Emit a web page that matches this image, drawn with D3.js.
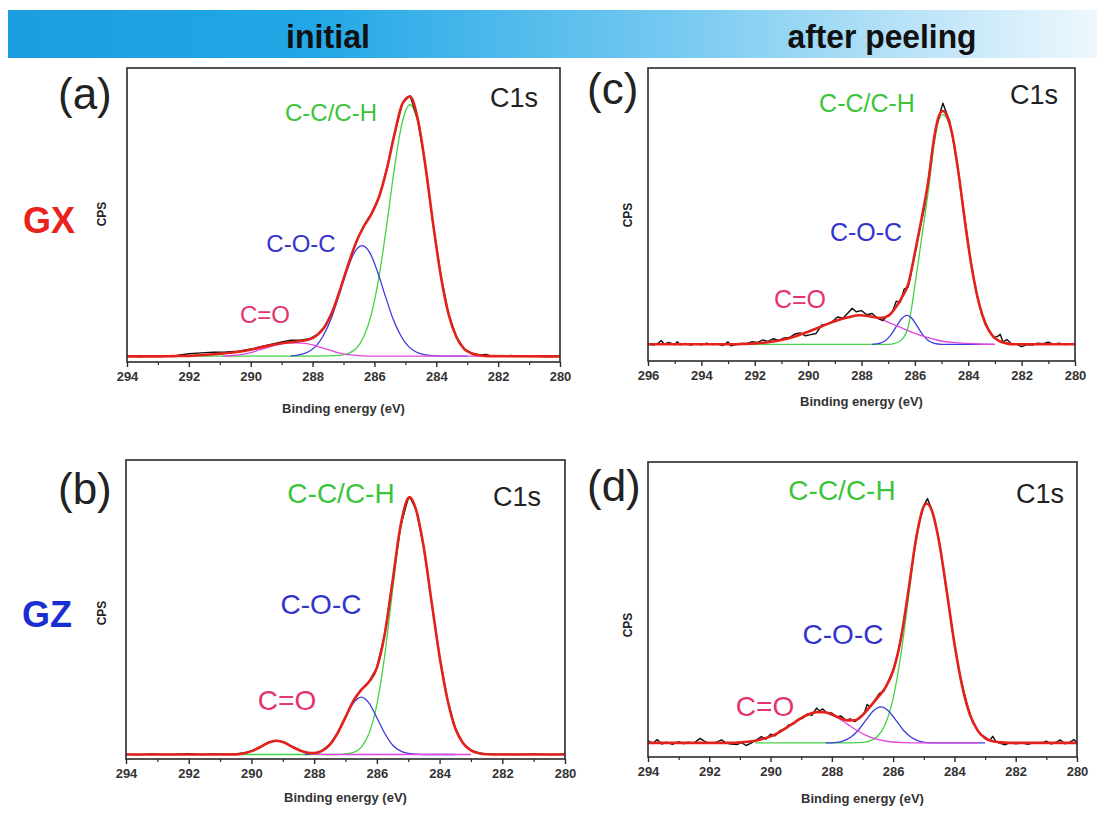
<!DOCTYPE html>
<html><head><meta charset="utf-8">
<script src="https://cdn.jsdelivr.net/npm/d3@7"></script>
<style>body{margin:0;background:#fff;} svg{display:block;}</style>
</head><body>
<svg id="chart" width="1097" height="816"></svg>
<script>
// ---------------- text / category data ----------------
const headerTitles = ["initial", "after peeling"];
const panelLetters = ["(a)", "(b)", "(c)", "(d)"];
const sampleNames = ["GX", "GZ"];
const componentLabels = ["C-C/C-H", "C-O-C", "C=O"];
const regionLabel = "C1s";
const xTitle = "Binding energy (eV)";
const yTitle = "CPS";
const ticks294 = [294, 292, 290, 288, 286, 284, 282, 280];
const ticks296 = [296, 294, 292, 290, 288, 286, 284, 282, 280];

// ---------------- panel (a) GX initial : [binding energy, relative intensity] ----------------
const aGreen = [[292,2.0],[288,2.0],[287.1,2.25],[286.85,2.9],[286.6,4.5],[286.35,8.5],[286.1,16.2],[285.85,29.1],[285.6,46.8],[285.35,66.2],[285.1,81.6],[284.85,87.5],[284.6,81.6],[284.35,66.2],[284.1,46.8],[283.85,29.1],[283.6,16.2],[283.35,8.5],[283.1,4.5],[282.85,2.9],[282.6,2.25],[282.2,2.0]];
const aBlue = [[288.7,2.1],[288.4,2.5],[288.15,3.4],[287.9,5.3],[287.65,9.0],[287.4,14.7],[287.15,22.5],[286.9,30.7],[286.65,37.2],[286.4,39.6],[286.15,37.2],[285.9,30.7],[285.65,22.5],[285.4,14.7],[285.15,9.0],[284.9,5.3],[284.65,3.4],[284.4,2.5],[284.15,2.15],[283.8,2.0],[283.0,2.0]];
const aMagenta = [[290.9,2.0],[290.5,2.3],[290.25,2.6],[290,3.2],[289.75,4.0],[289.5,4.8],[289.25,5.6],[289,6.2],[288.75,6.5],[288.5,6.5],[288.25,6.3],[288,5.8],[287.75,5.0],[287.5,4.2],[287.25,3.4],[287,2.8],[286.75,2.4],[286.5,2.2],[286,2.0],[280,2.0]];
const aRed = [[294,1.9],[293,1.9],[292.5,2.0],[292,2.1],[291.5,2.4],[291,2.8],[290.5,3.3],[290,4.2],[289.5,5.4],[289,6.4],[288.5,7.0],[288.1,7.7],[287.85,9.2],[287.6,12.1],[287.35,17.4],[287.1,24.9],[286.85,33.1],[286.6,40.5],[286.35,46],[286.1,50.3],[285.85,56.2],[285.6,65.6],[285.35,77.6],[285.1,87.7],[284.85,90.3],[284.6,82.7],[284.35,66.6],[284.1,46.8],[283.85,29.1],[283.6,16.2],[283.35,8.5],[283.1,4.5],[282.85,2.9],[282.6,2.3],[282.3,2.0],[280,1.9]];
const aBlack = [[294,2.2],[293.6,1.8],[293.2,2.1],[292.8,1.9],[292.4,2.2],[292,2.8],[291.6,3.1],[291.2,3.3],[290.8,3.4],[290.4,3.7],[290,4.4],[289.5,5.6],[289,6.8],[288.7,7.4],[288.4,7.4],[288.1,7.9],[287.85,9.3],[287.6,12.2],[287.35,17.3],[287.1,25.0],[286.85,33.0],[286.6,40.6],[286.35,46.2],[286.1,50.5],[285.85,56.0],[285.6,65.8],[285.35,77.4],[285.1,87.9],[284.85,90.6],[284.6,82.5],[284.35,66.8],[284.1,46.6],[283.85,29.3],[283.6,16.0],[283.35,8.6],[283.1,4.4],[282.85,3.0],[282.6,2.4],[282.4,2.6],[282.2,2.0],[281.8,1.9],[281.6,2.2],[281.2,1.9],[280.8,2.0],[280.4,1.8],[280,1.9]];

// ---------------- panel (b) GZ initial ----------------
const bGreen = [[290.5,1.5],[287.3,1.5],[287.0,1.7],[286.75,2.2],[286.5,3.9],[286.25,8.5],[286.0,18.2],[285.75,34.6],[285.5,56.2],[285.25,76.5],[285.1,83.5],[284.95,87.2],[284.75,83.4],[284.5,70.5],[284.25,52.2],[284.0,34.3],[283.75,20.0],[283.5,10.3],[283.25,5.3],[283.0,2.9],[282.75,1.95],[282.5,1.6],[282.2,1.5]];
const bBlue = [[288.3,1.5],[288.0,1.85],[287.75,2.7],[287.5,4.7],[287.25,8.6],[287.0,13.8],[286.75,18.7],[286.5,20.7],[286.25,18.7],[286.0,13.8],[285.75,8.6],[285.5,4.7],[285.25,2.7],[285.0,1.85],[284.75,1.6],[284.5,1.5],[283.5,1.5]];
const bMagenta = [[290.5,1.55],[290.2,2.0],[289.95,2.8],[289.7,4.1],[289.45,5.5],[289.2,6.1],[288.95,5.5],[288.7,4.1],[288.45,2.8],[288.2,2.0],[287.95,1.63],[287.6,1.5],[283,1.5]];
const bRed = [[294,1.5],[291,1.5],[290.5,1.55],[290.2,2.0],[289.95,2.8],[289.7,4.1],[289.45,5.5],[289.2,6.1],[288.95,5.5],[288.7,4.1],[288.45,2.85],[288.2,2.1],[288.0,2.0],[287.75,2.7],[287.5,4.8],[287.25,8.7],[287.0,14.0],[286.75,19.4],[286.5,23.1],[286.25,25.8],[286.0,30.5],[285.75,41.7],[285.5,59.4],[285.25,77.7],[285.0,87.3],[284.95,87.5],[284.75,83.4],[284.5,70.5],[284.25,52.2],[284.0,34.3],[283.75,20.0],[283.5,10.3],[283.25,5.3],[283.0,2.9],[282.75,1.95],[282.5,1.6],[282,1.5],[280,1.5]];
const bBlack = [[294,1.6],[293.6,1.4],[293.2,1.7],[292.8,1.5],[292.4,1.6],[292,1.8],[291.6,1.5],[291.2,1.7],[290.8,1.6],[290.5,1.7],[290.2,2.1],[289.95,2.9],[289.7,4.2],[289.45,5.6],[289.2,6.2],[288.95,5.6],[288.7,4.0],[288.45,2.8],[288.2,2.0],[288,1.9],[287.75,2.8],[287.5,4.9],[287.25,8.6],[287,14.1],[286.75,19.5],[286.5,23.2],[286.25,25.9],[286,30.6],[285.75,41.6],[285.5,59.5],[285.25,77.6],[285,87.4],[284.95,87.7],[284.75,83.3],[284.5,70.6],[284.25,52.1],[284,34.4],[283.75,19.9],[283.5,10.4],[283.25,5.2],[283,3.0],[282.75,2.0],[282.5,1.7],[282,1.6],[281.5,1.5],[281,1.7],[280.5,1.5],[280,1.6]];

// ---------------- panel (c) GX after peeling ----------------
const cGreen = [[292.5,5.7],[287,5.7],[286.75,6.0],[286.5,7.2],[286.25,11.7],[286,25.7],[285.75,41.7],[285.5,57.7],[285.25,75.7],[285.1,82.2],[284.95,84.1],[284.8,82.7],[284.6,76.7],[284.35,62.7],[284.1,45.7],[283.85,30.7],[283.6,19.7],[283.35,12.7],[283.1,8.7],[282.85,6.9],[282.6,6.1],[282.3,5.7],[281.8,5.7]];
const cBlue = [[287.6,5.7],[287.3,6.1],[287.1,7.0],[286.9,8.9],[286.7,11.7],[286.5,14.4],[286.3,15.6],[286.1,14.4],[285.9,11.7],[285.7,8.9],[285.5,7.0],[285.3,6.1],[285.0,5.7],[283,5.7]];
const cMagenta = [[292.5,5.8],[292,6.0],[291.5,6.4],[291,7.2],[290.5,8.4],[290,10.0],[289.5,11.8],[289,13.6],[288.5,14.9],[288.1,15.6],[287.6,15.1],[287.1,13.6],[286.6,11.7],[286.1,9.8],[285.6,8.2],[285.1,7.0],[284.6,6.35],[284.1,6.0],[283.6,5.8],[283,5.7]];
const cRed = [[296,5.7],[292.75,5.7],[292.5,5.8],[292,6.0],[291.5,6.4],[291,7.2],[290.5,8.4],[290,10.0],[289.5,11.8],[289,13.6],[288.5,14.9],[288.1,15.6],[287.6,15.1],[287.3,14.7],[287.0,15.4],[286.75,17.9],[286.5,21.5],[286.25,26.2],[286.0,36.9],[285.75,48.5],[285.5,61.2],[285.25,77.7],[285.1,83.6],[284.95,85.3],[284.8,83.7],[284.6,77.4],[284.35,63.2],[284.1,46.0],[283.85,30.9],[283.6,19.8],[283.35,12.7],[283.1,8.7],[282.85,6.9],[282.6,6.1],[282.3,5.7],[280,5.7]];
const cBlack = [[296,5.9],[295.8,5.4],[295.6,6.2],[295.5,7.0],[295.4,5.8],[295.2,6.3],[295.0,5.6],[294.9,6.6],[294.8,5.5],[294.6,6.0],[294.4,5.4],[294.2,5.9],[294.0,5.5],[293.8,6.1],[293.6,5.6],[293.4,5.9],[293.2,5.3],[293.0,6.5],[292.9,5.2],[292.7,5.6],[292.5,6.0],[292.3,5.9],[292.1,6.6],[291.9,6.3],[291.7,7.2],[291.5,6.7],[291.3,7.6],[291.1,7.0],[290.9,7.9],[290.7,8.0],[290.5,9.2],[290.3,9.6],[290.1,8.6],[289.9,9.0],[289.7,9.4],[289.5,12.2],[289.3,12.6],[289.1,13.4],[288.9,15.0],[288.7,14.6],[288.5,16.5],[288.35,18.0],[288.2,16.8],[288.0,17.2],[287.8,15.8],[287.6,16.2],[287.4,14.6],[287.2,13.8],[287.0,15.6],[286.85,16.6],[286.7,20.4],[286.55,20.0],[286.4,24.6],[286.25,25.2],[286.1,32.0],[285.95,38.6],[285.8,45.8],[285.65,52.0],[285.5,61.5],[285.35,71.8],[285.2,80.0],[285.05,84.8],[284.95,88.0],[284.85,85.5],[284.7,82.0],[284.55,74.5],[284.4,66.5],[284.25,56.5],[284.1,46.8],[283.95,36.6],[283.8,28.5],[283.65,21.5],[283.5,16.0],[283.35,12.2],[283.2,10.0],[283.05,8.0],[282.9,8.4],[282.8,9.1],[282.7,6.5],[282.55,7.3],[282.4,6.0],[282.2,5.8],[282.0,4.9],[281.8,5.6],[281.6,5.4],[281.4,6.1],[281.2,5.9],[281.0,6.4],[280.8,5.7],[280.6,6.1],[280.4,5.6],[280.2,5.9],[280.0,5.8]];

// ---------------- panel (d) GZ after peeling ----------------
const dGreen = [[290.5,4.8],[287.4,4.8],[287.0,4.95],[286.75,5.5],[286.5,7.1],[286.25,11.3],[286.0,19.9],[285.75,34.5],[285.5,53.9],[285.25,73.1],[285.0,84.7],[284.9,85.8],[284.75,83.9],[284.5,72.9],[284.25,56.1],[284.0,38.5],[283.75,24.2],[283.5,14.5],[283.25,9.1],[283.0,6.4],[282.75,5.35],[282.5,4.95],[282.2,4.8]];
const dBlue = [[288.2,4.8],[287.9,4.9],[287.65,5.4],[287.4,6.6],[287.15,8.9],[286.9,12.3],[286.65,15.6],[286.4,17.0],[286.15,15.6],[285.9,12.3],[285.65,8.9],[285.4,6.6],[285.15,5.4],[284.9,4.9],[284.6,4.8],[283.0,4.8]];
const dMagenta = [[291.15,4.9],[290.9,5.0],[290.65,5.26],[290.4,5.7],[290.15,6.4],[289.9,7.4],[289.65,8.8],[289.4,10.5],[289.15,12.2],[288.9,13.8],[288.65,14.9],[288.4,15.3],[288.15,14.9],[287.9,13.8],[287.65,12.2],[287.4,10.5],[287.15,8.8],[286.9,7.4],[286.65,6.4],[286.4,5.7],[286.15,5.26],[285.9,5.0],[285.65,4.9],[285.3,4.8],[283.2,4.8]];
const dRed = [[294,4.8],[291.25,4.8],[291,4.95],[290.75,5.15],[290.5,5.5],[290.25,6.15],[290,7.0],[289.75,8.2],[289.5,9.8],[289.25,11.5],[289,13.2],[288.75,14.5],[288.5,15.2],[288.25,15.2],[288,14.4],[287.75,13.3],[287.5,12.4],[287.25,12.45],[287,14.2],[286.75,17.1],[286.5,20.2],[286.25,23.6],[286,29.2],[285.75,39.9],[285.5,56.5],[285.25,74.1],[285,85.0],[284.9,85.95],[284.75,83.9],[284.5,72.9],[284.25,56.1],[284,38.5],[283.75,24.2],[283.5,14.5],[283.25,9.1],[283,6.4],[282.75,5.35],[282.5,4.95],[282.25,4.8],[280,4.8]];
const dBlack = [[294,5.6],[293.85,4.6],[293.7,5.9],[293.55,4.4],[293.4,5.0],[293.2,4.3],[293.0,5.2],[292.85,4.5],[292.7,5.0],[292.5,4.7],[292.3,6.3],[292.15,5.3],[292.0,4.6],[291.8,4.9],[291.6,5.8],[291.45,4.7],[291.3,4.4],[291.1,4.2],[290.95,4.9],[290.8,3.9],[290.65,4.6],[290.5,5.6],[290.3,6.9],[290.15,6.1],[290.0,7.7],[289.85,7.2],[289.7,8.9],[289.55,9.4],[289.4,10.9],[289.25,11.2],[289.1,12.8],[288.95,13.1],[288.8,14.6],[288.65,14.1],[288.5,16.6],[288.4,15.6],[288.3,16.3],[288.15,14.9],[288.0,14.9],[287.85,13.6],[287.7,13.9],[287.55,12.5],[287.4,12.9],[287.25,12.0],[287.1,13.3],[286.95,14.6],[286.85,17.8],[286.75,17.0],[286.6,19.2],[286.45,21.6],[286.3,22.4],[286.15,25.9],[286.0,29.6],[285.85,35.0],[285.7,43.0],[285.55,52.5],[285.4,63.5],[285.25,74.6],[285.1,81.5],[285.0,85.3],[284.88,87.6],[284.78,85.0],[284.65,80.6],[284.5,73.4],[284.35,63.2],[284.2,52.4],[284.05,41.6],[283.9,32.0],[283.75,24.8],[283.6,18.4],[283.45,13.4],[283.3,10.2],[283.15,7.6],[283.0,6.8],[282.85,5.6],[282.75,7.0],[282.65,5.2],[282.5,4.6],[282.35,4.1],[282.2,4.9],[282.0,4.5],[281.8,4.8],[281.6,4.3],[281.4,4.9],[281.2,4.6],[281.0,5.4],[280.85,4.4],[280.7,4.9],[280.55,5.8],[280.4,4.5],[280.25,4.9],[280.1,5.9],[280.0,5.0]];

// ---------------- layout (positions & styles) ----------------
const svg = d3.select("#chart");
const FONT = "'Liberation Sans', Arial, Helvetica, sans-serif";
const colors = {green:"#46d246", blue:"#3c3cdc", magenta:"#e046e0", red:"#e4221c", black:"#111",
  tGreen:"#3cc43c", tBlue:"#3434cc", tPink:"#e4346e"};

// header band
const defs = svg.append("defs");
const grad = defs.append("linearGradient").attr("id","band").attr("x1","0").attr("x2","1").attr("y1","0").attr("y2","0");
[["0%","#1b9ee0"],["28%","#22a7e6"],["60%","#72c8f0"],["85%","#bfe5f8"],["100%","#eef8fd"]]
  .forEach(s => grad.append("stop").attr("offset", s[0]).attr("stop-color", s[1]));
svg.append("rect").attr("x",8).attr("y",10).attr("width",1089).attr("height",48).attr("fill","url(#band)");
const headerPos = [{x:328, len:84}, {x:882, len:189}];
headerTitles.forEach((t,i) => svg.append("text").attr("x",headerPos[i].x).attr("y",48)
  .attr("text-anchor","middle").attr("font-family",FONT).attr("font-weight","bold")
  .attr("font-size",34).attr("fill","#111").attr("textLength",headerPos[i].len)
  .attr("lengthAdjust","spacingAndGlyphs").text(t));

// sample names
const sampleStyle = [{x:49, y:233, c:"#e8221c"}, {x:47, y:627, c:"#1a2fd0"}];
sampleNames.forEach((s,i) => svg.append("text").attr("x",sampleStyle[i].x).attr("y",sampleStyle[i].y)
  .attr("text-anchor","middle").attr("font-family",FONT).attr("font-weight","bold")
  .attr("font-size",36).attr("fill",sampleStyle[i].c).text(s));

const panels = [
  {letter:0, box:{l:127,r:560,t:68,b:362}, dom:[294,280], ticks:ticks294, series:[aGreen,aBlue,aMagenta,aBlack,aRed],
   letterPos:[58,109], c1s:[538,107], cps:[102,214], titleY:413, fs:24,
   lab:[[331,121],[301,252],[265,323]]},
  {letter:2, box:{l:648,r:1075,t:68,b:361}, dom:[296,280], ticks:ticks296, series:[cGreen,cBlue,cMagenta,cBlack,cRed],
   letterPos:[587,104], c1s:[1058,104], cps:[628,215], titleY:406, fs:25,
   lab:[[867,112],[866,241],[800,308]]},
  {letter:1, box:{l:126,r:565,t:460,b:759}, dom:[294,280], ticks:ticks294, series:[bGreen,bBlue,bMagenta,bBlack,bRed],
   letterPos:[58,504], c1s:[541,506], cps:[102,613], titleY:802, fs:28,
   lab:[[341,503],[321,614],[287,710]]},
  {letter:3, box:{l:648,r:1077,t:462,b:757}, dom:[294,280], ticks:ticks294, series:[dGreen,dBlue,dMagenta,dBlack,dRed],
   letterPos:[587,501], c1s:[1064,503], cps:[628,625], titleY:803, fs:28,
   lab:[[842,500],[843,644],[765,716]]}
];

panels.forEach((p,pi) => {
  const x = d3.scaleLinear().domain(p.dom).range([p.box.l, p.box.r]);
  const y = d3.scaleLinear().domain([0,100]).range([p.box.b, p.box.t]);
  const g = svg.append("g");
  const clipId = "clip"+pi;
  defs.append("clipPath").attr("id",clipId).append("rect")
    .attr("x",p.box.l).attr("y",p.box.t).attr("width",p.box.r-p.box.l).attr("height",p.box.b-p.box.t);
  const plot = g.append("g").attr("clip-path",`url(#${clipId})`);
  const smooth = d3.line().x(d=>x(d[0])).y(d=>y(d[1])).curve(d3.curveMonotoneX);
  const raw = d3.line().x(d=>x(d[0])).y(d=>y(d[1]));
  const styles = [
    {c:colors.green, w:1.3, gen:smooth},
    {c:colors.blue, w:1.3, gen:smooth},
    {c:colors.magenta, w:1.3, gen:smooth},
    {c:colors.black, w:1.4, gen:raw},
    {c:colors.red, w:2.6, gen:smooth}
  ];
  p.series.forEach((s,si) => plot.append("path").datum(s).attr("d", styles[si].gen)
    .attr("fill","none").attr("stroke",styles[si].c).attr("stroke-width",styles[si].w)
    .attr("stroke-linejoin","round"));

  // frame
  g.append("rect").attr("x",p.box.l).attr("y",p.box.t).attr("width",p.box.r-p.box.l).attr("height",p.box.b-p.box.t)
    .attr("fill","none").attr("stroke","#2a2a2a").attr("stroke-width",1.6);

  // axes
  const minor = d3.range(p.dom[1]+1, p.dom[0], 2);
  const ax = g.append("g").attr("transform",`translate(0,${p.box.b})`)
    .call(d3.axisBottom(x).tickValues(p.ticks).tickSize(5).tickPadding(5).tickSizeOuter(0).tickFormat(d3.format("d")));
  ax.select(".domain").remove();
  ax.selectAll("line").attr("stroke","#2a2a2a").attr("stroke-width",1.4);
  ax.selectAll("text").attr("font-family",FONT).attr("font-weight","bold").attr("font-size",13).attr("fill","#333");
  const axm = g.append("g").attr("transform",`translate(0,${p.box.b})`)
    .call(d3.axisBottom(x).tickValues(minor).tickSize(3).tickFormat(""));
  axm.select(".domain").remove();
  axm.selectAll("line").attr("stroke","#2a2a2a").attr("stroke-width",1.2);

  // titles
  g.append("text").attr("x",(p.box.l+p.box.r)/2).attr("y",p.titleY).attr("text-anchor","middle")
    .attr("font-family",FONT).attr("font-weight","bold").attr("font-size",13).attr("fill","#333").text(xTitle);
  g.append("text").attr("transform",`translate(${p.cps[0]},${p.cps[1]}) rotate(-90)`).attr("text-anchor","middle")
    .attr("dy","0.35em").attr("font-family",FONT).attr("font-weight","bold").attr("font-size",12).attr("fill","#222").text(yTitle);
  g.append("text").attr("x",p.letterPos[0]).attr("y",p.letterPos[1]).attr("font-family",FONT)
    .attr("font-size",44).attr("fill","#222").text(panelLetters[p.letter]);
  g.append("text").attr("x",p.c1s[0]).attr("y",p.c1s[1]).attr("text-anchor","end").attr("font-family",FONT)
    .attr("font-size",27).attr("fill","#222").text(regionLabel);
  const labCols = [colors.tGreen, colors.tBlue, colors.tPink];
  componentLabels.forEach((t,li) => g.append("text").attr("x",p.lab[li][0]).attr("y",p.lab[li][1])
    .attr("text-anchor","middle").attr("font-family",FONT).attr("font-size",p.fs).attr("fill",labCols[li]).text(t));
});
</script>
</body></html>
